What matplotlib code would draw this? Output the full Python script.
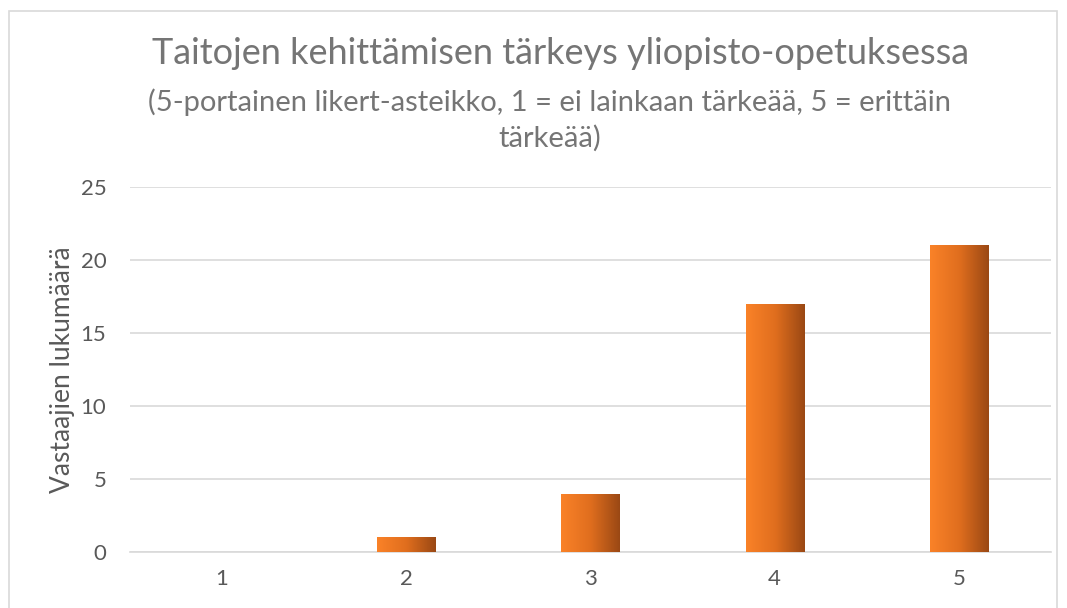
import numpy as np
import matplotlib.pyplot as plt
from matplotlib.patches import Rectangle
from matplotlib.colors import LinearSegmentedColormap

categories = ["1", "2", "3", "4", "5"]
counts = [0, 1, 4, 17, 21]

title = "Taitojen kehittämisen tärkeys yliopisto-opetuksessa"
subtitle_1 = "(5-portainen likert-asteikko, 1 = ei lainkaan tärkeää, 5 = erittäin"
subtitle_2 = "tärkeää)"
ylabel = "Vastaajien lukumäärä"

plt.rcParams['font.family'] = ['Lato', 'DejaVu Sans']
grey = "#595959"
title_grey = "#757575"

fig = plt.figure(figsize=(10.67, 6.08), dpi=100)
ax = fig.add_axes([0.1218, 0.0921, 0.8632, 0.6003])

# chart border
fig.patches.append(Rectangle((9 / 1067, -0.05), 1048 / 1067, 1 - 11 / 608 + 0.05,
                             transform=fig.transFigure, fill=False,
                             edgecolor="#d9d9d9", linewidth=1.2))

x = np.arange(len(categories))
width = 0.315
bars = ax.bar(x, counts, width=width, color="none", edgecolor="none", zorder=3)

cmap = LinearSegmentedColormap.from_list("og", ["#fa8228", "#e06e1e", "#9a4814"])
grad = np.linspace(0, 1, 256).reshape(1, -1)
for b in bars:
    if b.get_height() <= 0:
        continue
    im = ax.imshow(grad, cmap=cmap, aspect="auto", zorder=3,
                   extent=(b.get_x(), b.get_x() + b.get_width(), 0, b.get_height()))
    im.set_clip_path(b)

ax.set_xlim(-0.5, len(categories) - 0.5)
ax.set_ylim(0, 25)
ax.set_yticks(range(0, 26, 5))
ax.set_xticks(x)
ax.set_xticklabels(categories)
ax.grid(axis="y", color="#d9d9d9", linewidth=1.2, zorder=0)
ax.set_axisbelow(True)
for s in ax.spines.values():
    s.set_visible(False)
ax.spines["bottom"].set_visible(True)
ax.spines["bottom"].set_color("#d9d9d9")
ax.spines["bottom"].set_linewidth(1.2)
ax.tick_params(length=0, labelsize=16, labelcolor=grey)
ax.tick_params(axis="x", pad=12)
ax.tick_params(axis="y", pad=17)
ax.set_ylabel(ylabel, fontsize=19, color=grey, labelpad=4)

fig.text(0.525, 1 - 54 / 608, title, ha="center", va="center", fontsize=26, color=title_grey)
fig.text(0.515, 1 - 102 / 608, subtitle_1, ha="center", va="center", fontsize=21, color=title_grey)
fig.text(0.515, 1 - 138 / 608, subtitle_2, ha="center", va="center", fontsize=21, color=title_grey)

fig.savefig("out.png", dpi=100)
